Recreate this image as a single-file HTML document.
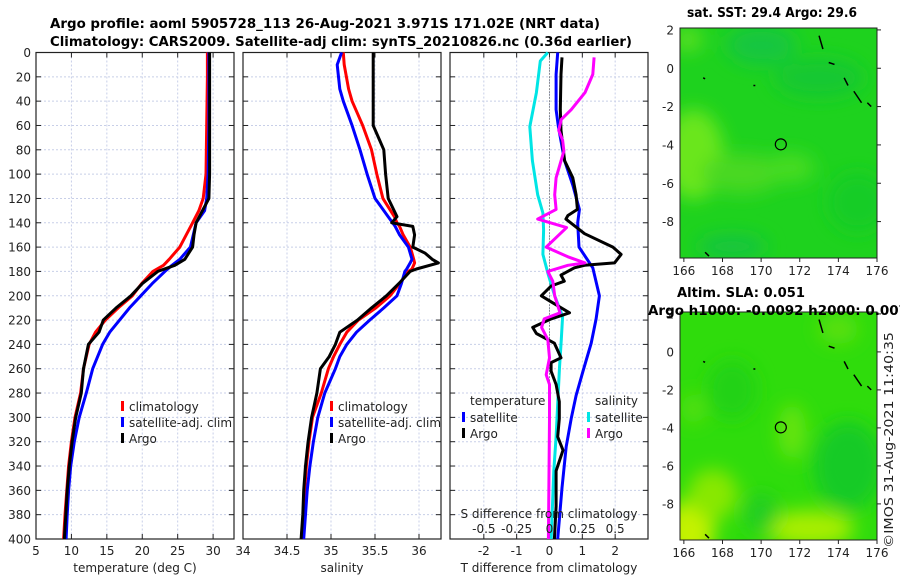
<!DOCTYPE html>
<html><head><meta charset="utf-8"><style>
html,body{margin:0;padding:0;background:#fff;}
svg{display:block;font-family:"DejaVu Sans","Liberation Sans",sans-serif;}
.tk{font-size:12px;fill:#222;}
.ttl{font-size:13px;font-weight:bold;fill:#000;}
</style></head><body>
<svg id="fig" width="900" height="580" viewBox="0 0 900 580" xmlns="http://www.w3.org/2000/svg">
<defs>
<filter id="bl" x="-50%" y="-50%" width="200%" height="200%"><feGaussianBlur stdDeviation="9"/></filter>
<clipPath id="c1"><rect x="680" y="28" width="197" height="230"/></clipPath>
<clipPath id="c2"><rect x="680" y="312" width="197" height="228"/></clipPath>
</defs>
<text class="ttl" x="50" y="28" textLength="550" lengthAdjust="spacingAndGlyphs">Argo profile: aoml 5905728_113 26-Aug-2021 3.971S 171.02E (NRT data)</text>
<text class="ttl" x="50" y="46" textLength="582" lengthAdjust="spacingAndGlyphs">Climatology: CARS2009. Satellite-adj clim: synTS_20210826.nc (0.36d earlier)</text>
<g id="plots"></g>
<g id="maps"></g>
<text class="tk" transform="translate(893,440) rotate(-90)" text-anchor="middle" font-size="13.5" textLength="216" lengthAdjust="spacingAndGlyphs">©IMOS 31-Aug-2021 11:40:35</text>
</svg>
<script>
// ---- data ----
const tempDepth=[0,20,60,100,120,130,140,150,160,170,175,180,190,200,210,220,230,240,260,280,300,320,340,360,380,400];
const tempClim=[29.2,29.2,29.1,29.0,28.6,28.0,27.1,26.2,25.3,23.8,23.0,21.5,19.9,18.6,16.6,14.8,13.4,12.5,11.7,11.3,10.5,10.0,9.6,9.35,9.1,8.9];
const tempSat=[29.4,29.4,29.4,29.3,29.1,28.8,27.6,27.2,26.8,25.3,24.2,23.2,21.4,19.8,18.2,16.8,15.4,14.4,13.0,12.1,11.1,10.4,9.9,9.6,9.4,9.25];
const tempArgo=[29.5,29.5,29.5,29.5,29.4,28.5,27.6,27.3,27.1,26.0,24.6,22.2,20.0,18.4,16.3,14.5,13.9,12.4,11.7,11.4,10.6,10.1,9.7,9.4,9.2,9.0];
const salDepth=[0,10,30,40,50,60,80,100,120,135,140,143,150,160,165,170,173,178,180,190,200,210,220,230,240,250,260,280,300,320,340,360,380,400];
const salClim=[35.14,35.15,35.2,35.24,35.3,35.36,35.46,35.52,35.59,35.72,35.75,35.78,35.82,35.9,35.92,35.94,35.95,35.92,35.88,35.78,35.67,35.51,35.31,35.18,35.1,35.03,34.97,34.89,34.79,34.75,34.72,34.7,34.69,34.67];
const salSat=[35.12,35.07,35.1,35.14,35.19,35.24,35.33,35.41,35.5,35.65,35.7,35.73,35.78,35.88,35.9,35.92,35.9,35.86,35.84,35.8,35.75,35.6,35.44,35.29,35.18,35.1,35.05,34.93,34.85,34.8,34.76,34.73,34.71,34.69];
const salArgo=[35.48,35.48,35.48,35.48,35.48,35.48,35.6,35.62,35.65,35.75,35.69,35.93,35.95,35.93,36.07,36.15,36.22,35.97,35.9,35.77,35.63,35.46,35.3,35.1,35.05,34.98,34.88,34.84,34.78,34.74,34.71,34.69,34.68,34.66];
const dTsatDepth=[0,18,47,61,89,109,129,140,160,177,200,219,239,262,282,301,324,358,400];
const dTsat=[0.25,0.2,0.2,0.27,0.46,0.71,0.91,0.86,0.9,1.32,1.52,1.42,1.27,1.02,0.81,0.66,0.51,0.38,0.25];
const dTargoDepth=[4,18,47,64,75,89,103,117,129,134,137,149,160,166,173,175,177,183,188,192,200,205,214,219,226,231,239,251,255,262,273,287,301,316,327,344,373,400];
const dTargo=[0.38,0.35,0.33,0.35,0.4,0.46,0.71,0.81,0.85,0.56,0.5,1.07,1.93,2.18,1.98,1.07,0.76,0.35,0.45,0.05,-0.25,0.05,0.61,0.05,-0.51,-0.4,0.15,0.35,0.05,0.05,0.2,0.3,0.3,0.25,0.41,0.2,0.2,0.15];
const dSsatDepth=[0,7,33,61,89,117,132,146,166,183,200,217,236,259,287,316,344,400];
const dSsat=[-0.013,-0.07,-0.1,-0.15,-0.13,-0.09,-0.05,-0.045,-0.05,-0.008,0.04,0.1,0.09,0.076,0.063,0.05,0.033,0.013];
const dSargoDepth=[4,18,33,47,55,64,72,81,92,103,117,129,137,144,160,168,173,175,180,188,200,214,219,226,236,251,265,273,301,400];
const dSargo=[0.34,0.33,0.27,0.165,0.09,0.07,0.1,0.11,0.08,0.05,0.04,0.05,-0.09,0.13,-0.025,0.14,0.27,0.14,-0.013,0.025,0.04,0.08,-0.04,-0.06,-0.013,0,-0.025,0,0,-0.008];
const depthTicks=[0,20,40,60,80,100,120,140,160,180,200,220,240,260,280,300,320,340,360,380,400];
const tempTicks=[5,10,15,20,25,30];
const salTicks=[34,34.5,35,35.5,36];
const dTTicks=[-2,-1,0,1,2];
const dSTicks=[-0.5,-0.25,0,0.25,0.5];
const dSTickLabels=["-0.5","-0.25","0","0.25","0.5"];
const lonTicks=[166,168,170,172,174,176];
const latTicks=[2,0,-2,-4,-6,-8];
const floatLon=171.02, floatLat=-3.971;

// ---- helpers ----
const NS="http://www.w3.org/2000/svg";
function mk(tag,at,parent){const e=document.createElementNS(NS,tag);for(const k in at)e.setAttribute(k,at[k]);parent.appendChild(e);return e;}
const plots=document.getElementById('plots');
const PT=52.5,PB=539;
const yD=d=>PT+d/400*(PB-PT);
const panels=[
 {x0:36,x1:234,v0:5,v1:32.95,ticks:tempTicks,labels:tempTicks.map(String),xt:'temperature (deg C)',name:'temperature-panel'},
 {x0:243,x1:441,v0:34,v1:36.25,ticks:salTicks,labels:salTicks.map(String),xt:'salinity',name:'salinity-panel'},
 {x0:450,x1:648,v0:-3.03,v1:3.0,ticks:dTTicks,labels:dTTicks.map(String),xt:'T difference from climatology',name:'difference-panel'}
];
panels.forEach((p,i)=>{
 p.xs=v=>p.x0+(v-p.v0)/(p.v1-p.v0)*(p.x1-p.x0);
 const g=mk('g',{},plots);
 
 
 depthTicks.forEach(d=>{
  const y=yD(d);
  const gl=mk('line',{x1:p.x0,x2:p.x1,y1:y,y2:y,stroke:'#c8cfe8','stroke-width':1,'stroke-dasharray':'2,2'},g);
  
  
  mk('line',{x1:p.x0,x2:p.x0+5,y1:y,y2:y,stroke:'#222'},g);
  mk('line',{x1:p.x1-5,x2:p.x1,y1:y,y2:y,stroke:'#222'},g);
  if(i===0){const t=mk('text',{x:31,y:y+4.5,'text-anchor':'end',class:'tk'},g);t.textContent=d;
   
   }
 });
 p.ticks.forEach((v,k)=>{
  const x=p.xs(v);
  const gl=mk('line',{x1:x,x2:x,y1:PT,y2:PB,stroke:'#c8cfe8','stroke-dasharray':'2,2'},g);
  
  
  mk('line',{x1:x,x2:x,y1:PB-5,y2:PB,stroke:'#222'},g);
  mk('line',{x1:x,x2:x,y1:PT,y2:PT+5,stroke:'#222'},g);
  const t=mk('text',{x:x,y:555,'text-anchor':'middle',class:'tk'},g);t.textContent=p.labels[k];
  
  
 });
 const r=mk('rect',{x:p.x0,y:PT,width:p.x1-p.x0,height:PB-PT,fill:'none',stroke:'#222','stroke-width':1.2},g);
 
 
 const xt=mk('text',{x:(p.x0+p.x1)/2,y:572,'text-anchor':'middle',class:'tk','font-size':'13'},g);xt.textContent=p.xt;
 
 
 p.g=g;
});
function line(p,vals,depths,color,name,scale){
 const pts=vals.map((v,k)=>p.xs(v*(scale||1)).toFixed(1)+','+yD(depths[k]).toFixed(1)).join(' ');
 const e=mk('polyline',{points:pts,fill:'none',stroke:color,'stroke-width':3,'stroke-linejoin':'round'},p.g);
 
 
}
const zl=mk('line',{x1:panels[2].xs(0),x2:panels[2].xs(0),y1:PT,y2:PB,stroke:'#444','stroke-dasharray':'1,2'},panels[2].g);


line(panels[0],tempClim,tempDepth,'#f00','temp-climatology-line');
line(panels[0],tempSat,tempDepth,'#00f','temp-satellite-line');
line(panels[0],tempArgo,tempDepth,'#000','temp-argo-line');
line(panels[1],salClim,salDepth,'#f00','sal-climatology-line');
line(panels[1],salSat,salDepth,'#00f','sal-satellite-line');
line(panels[1],salArgo,salDepth,'#000','sal-argo-line');
line(panels[2],dSsat,dSsatDepth,'#00e5e5','sdiff-satellite-line',4);
line(panels[2],dTsat,dTsatDepth,'#00f','tdiff-satellite-line');
line(panels[2],dTargo,dTargoDepth,'#000','tdiff-argo-line');
line(panels[2],dSargo,dSargoDepth,'#f0f','sdiff-argo-line',4);
(function(){const p=panels[2];
 const t=mk('text',{x:549,y:518,'text-anchor':'middle',class:'tk','font-size':'13'},p.g);t.textContent='S difference from climatology';
 
 
 dSTicks.forEach((v,k)=>{const e=mk('text',{x:p.xs(v*4),y:533,'text-anchor':'middle',class:'tk'},p.g);e.textContent=dSTickLabels[k];
  
  });
})();
function leg(parent,x,y,color,label,name){
 const g=mk('g',{},parent);
 
 
 mk('rect',{x:x,y:y-10,width:3,height:10,fill:color},g);
 const t=mk('text',{x:x+8,y:y,class:'tk','font-size':'13'},g);t.textContent=label;
}
leg(panels[0].g,121,411,'#f00','climatology','legend-climatology');
leg(panels[0].g,121,427,'#00f','satellite-adj. clim','legend-satellite-adj');
leg(panels[0].g,121,443,'#000','Argo','legend-argo');
leg(panels[1].g,330,411,'#f00','climatology','legend-climatology');
leg(panels[1].g,330,427,'#00f','satellite-adj. clim','legend-satellite-adj');
leg(panels[1].g,330,443,'#000','Argo','legend-argo');
(function(){const g=panels[2].g;
 let t=mk('text',{x:470,y:405,class:'tk','font-size':'13'},g);t.textContent='temperature';
 
 
 t=mk('text',{x:595,y:405,class:'tk','font-size':'13'},g);t.textContent='salinity';
 
 
})();
leg(panels[2].g,462,422,'#00f','satellite','legend-t-satellite');
leg(panels[2].g,462,438,'#000','Argo','legend-t-argo');
leg(panels[2].g,587,422,'#00e5e5','satellite','legend-s-satellite');
leg(panels[2].g,587,438,'#f0f','Argo','legend-s-argo');

// ---- maps ----
const maps=document.getElementById('maps');
const MX0=680,MX1=877,LON0=165.8,LON1=176.0;
const mxs=l=>MX0+(l-LON0)/(LON1-LON0)*(MX1-MX0);
function drawMap(top,bot,clip,base,blobs,name,titles){
 const g=mk('g',{},maps);
 
 
 const LAT0=2.1,LAT1=-9.9;
 const mys=la=>top+(LAT0-la)/(LAT0-LAT1)*(bot-top);
 const cg=mk('g',{'clip-path':'url(#'+clip+')'},g);
 mk('rect',{x:MX0,y:top,width:MX1-MX0,height:bot-top,fill:base},cg);
 const bg=mk('g',{filter:'url(#bl)'},cg);
 blobs.forEach(b=>mk('ellipse',{cx:mxs(b[0]),cy:mys(b[1]),rx:b[2],ry:b[3],fill:b[4]},bg));
 [[173.0,1.7,173.2,1.0],[173.5,0.3,173.8,0.2],[174.3,-0.5,174.5,-0.9],[174.8,-1.2,175.2,-1.8],[175.5,-1.8,175.7,-2.0],[167.0,-0.5,167.1,-0.55],[167.1,-9.6,167.3,-9.8],[169.6,-0.9,169.7,-0.9]].forEach(c=>{
  const e=mk('line',{x1:mxs(c[0]),y1:mys(c[1]),x2:mxs(c[2]),y2:mys(c[3]),stroke:'#000','stroke-width':1.5},cg);
  
  
 });
 const fr=mk('rect',{x:MX0,y:top,width:MX1-MX0,height:bot-top,fill:'none',stroke:'#222'},g);
 
 
 const c=mk('circle',{cx:mxs(floatLon),cy:mys(floatLat),r:5.5,fill:'none',stroke:'#000','stroke-width':1.2},g);
 
 
 latTicks.forEach(la=>{const y=mys(la);
  mk('line',{x1:MX1,x2:MX1+4,y1:y,y2:y,stroke:'#222'},g);
  const t=mk('text',{x:MX0-6,y:y+4.5,'text-anchor':'end',class:'tk'},g);t.textContent=la;
  
  });
 lonTicks.forEach(lo=>{const x=mxs(lo);
  mk('line',{x1:x,x2:x,y1:bot,y2:bot+4,stroke:'#222'},g);
  const t=mk('text',{x:x,y:bot+17,'text-anchor':'middle',class:'tk'},g);t.textContent=lo;
  
  });
 titles.forEach(tt=>{const t=mk('text',{x:tt[1],y:tt[2],class:'ttl',textLength:tt[3],lengthAdjust:'spacingAndGlyphs'},g);t.textContent=tt[0];
  
  });
}
drawMap(28,258,'c1','#1ed21e',[
 [166.5,-4.5,30,45,'#6ae61a'],[169,-5.5,40,20,'#4ad822'],[171.5,-5.2,25,15,'#46dc20'],[170,1.2,35,20,'#12c640'],[173,-0.5,45,20,'#14c832'],[168.5,-9.3,35,12,'#16c440'],[166.2,1.5,15,12,'#5ae020'],[175,-7,30,30,'#18cc28']
],'sst-map',[['sat. SST: 29.4 Argo: 29.6',687,17,170]]);
drawMap(312,540,'c2','#2fdc0c',[
 [166.3,-9.4,25,30,'#c4f200'],[167.5,-7.5,25,25,'#88e806'],[172.5,-9.3,45,18,'#a8ee04'],[171.6,-4.2,14,28,'#66e40a'],[174.5,-6,35,45,'#18ca26'],[168.5,-2,25,30,'#22d218'],[170,-8.5,18,20,'#20ce22'],[174,1.2,20,15,'#5ae00c'],[166.5,-3,12,15,'#54e00a']
],'sla-map',[['Altim. SLA: 0.051',677,297,128],['Argo h1000: -0.0092 h2000: 0.007',648,315,260]]);
</script>
</body></html>
